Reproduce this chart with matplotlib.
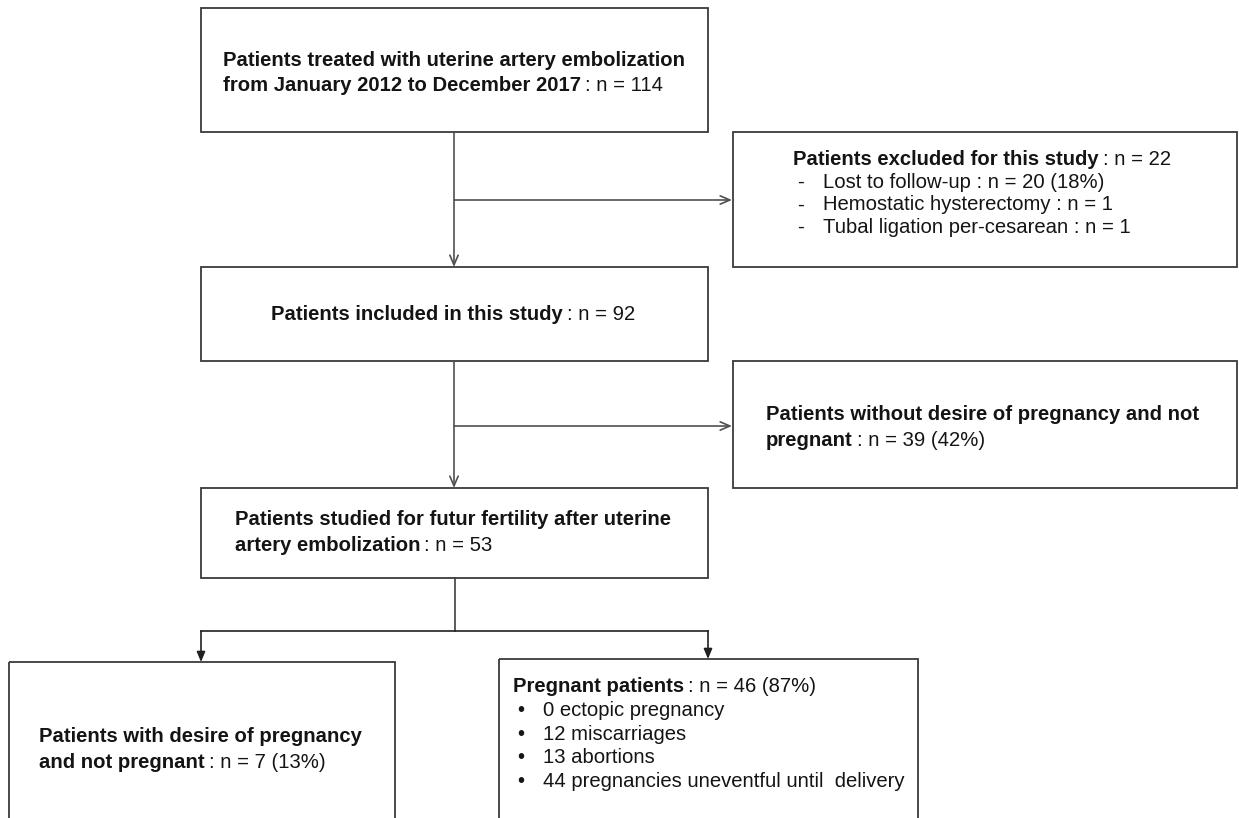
import matplotlib
matplotlib.use("Agg")
import matplotlib.pyplot as plt
from matplotlib.patches import Rectangle

# ---- content ----
box_top = [("Patients treated with uterine artery embolization", None),
           ("from January 2012 to December 2017", ": n = 114")]
excl_title = ("Patients excluded for this study", ": n = 22")
excl_items = ["Lost to follow-up : n = 20 (18%)",
              "Hemostatic hysterectomy : n = 1",
              "Tubal ligation per-cesarean : n = 1"]
incl_title = ("Patients included in this study", ": n = 92")
nodesire_lines = [("Patients without desire of pregnancy and not", None),
                  ("pregnant", ": n = 39 (42%)")]
studied_lines = [("Patients studied for futur fertility after uterine", None),
                 ("artery embolization", ": n = 53")]
notpreg_lines = [("Patients with desire of pregnancy", None),
                 ("and not pregnant", ": n = 7 (13%)")]
preg_title = ("Pregnant patients", ": n = 46 (87%)")
preg_items = ["0 ectopic pregnancy", "12 miscarriages", "13 abortions",
              "44 pregnancies uneventful until  delivery"]

W, H = 1239, 818
fig = plt.figure(figsize=(W / 100, H / 100), dpi=100)
ax = fig.add_axes([0, 0, 1, 1])
ax.set_xlim(0, W)
ax.set_ylim(H, 0)
ax.axis("off")
renderer = fig.canvas.get_renderer()

FONT = ["Liberation Sans", "DejaVu Sans"]
FS = 14.6
TXT = "#141414"
EDGE = "#3a3a3a"


def box(x0, y0, x1, y1):
    ax.add_patch(Rectangle((x0, y0), x1 - x0, y1 - y0, fill=False,
                           edgecolor=EDGE, lw=1.3, zorder=2))


def rich(x, y, bold, regular=None):
    t = ax.text(x, y, bold, fontsize=FS, fontweight="bold", family=FONT,
                va="baseline", ha="left", color=TXT)
    if regular:
        bb = t.get_window_extent(renderer)
        x2 = x + bb.width + 4
        ax.text(x2, y, regular, fontsize=FS, family=FONT, va="baseline",
                ha="left", color=TXT)


def plain(x, y, s):
    ax.text(x, y, s, fontsize=FS, family=FONT, va="baseline", ha="left",
            color=TXT)


def open_arrow(x0, y0, x1, y1):
    ax.annotate("", xy=(x1, y1), xytext=(x0, y0),
                arrowprops=dict(arrowstyle="->,head_length=0.7,head_width=0.3",
                                color="#505050", lw=1.2, shrinkA=0, shrinkB=0))


def filled_arrow(x0, y0, x1, y1):
    ax.annotate("", xy=(x1, y1), xytext=(x0, y0),
                arrowprops=dict(arrowstyle="-|>,head_length=0.6,head_width=0.25",
                                color="#202020", lw=1.2, shrinkA=0, shrinkB=0))


# ---- boxes ----
box(201, 8, 708, 132)
box(733, 132, 1237, 267)
box(201, 267, 708, 361)
box(733, 361, 1237, 488)
box(201, 488, 708, 578)
box(9, 662, 395, 840)
box(499, 659, 918, 840)

# ---- connectors ----
open_arrow(454, 132, 454, 267)
open_arrow(454, 200, 732, 200)
open_arrow(454, 361, 454, 488)
open_arrow(454, 426, 732, 426)
ax.plot([455, 455], [578, 631], color="#404040", lw=1.2)
ax.plot([201, 708], [631, 631], color="#202020", lw=1.2)
filled_arrow(201, 631, 201, 662)
filled_arrow(708, 631, 708, 659)

# ---- texts ----
D = 7  # baseline offset from visual centre
for i, (b, r) in enumerate(box_top):
    rich(223, 59 + i * 25 + D, b, r)

rich(793, 158 + D, *excl_title)
for i, s in enumerate(excl_items):
    yy = 181 + i * 22.5 + D
    plain(797, yy, "-")
    plain(823, yy, s)

rich(271, 313 + D, *incl_title)

for i, (b, r) in enumerate(nodesire_lines):
    rich(766, 413 + i * 26 + D, b, r)

for i, (b, r) in enumerate(studied_lines):
    rich(235, 518 + i * 26 + D, b, r)

for i, (b, r) in enumerate(notpreg_lines):
    rich(39, 735 + i * 26 + D, b, r)

rich(513, 685 + D, *preg_title)
for i, s in enumerate(preg_items):
    yy = 709 + i * 23.7 + D
    plain(517, yy, "•")
    plain(543, yy, s)

fig.savefig("out.png", dpi=100)
